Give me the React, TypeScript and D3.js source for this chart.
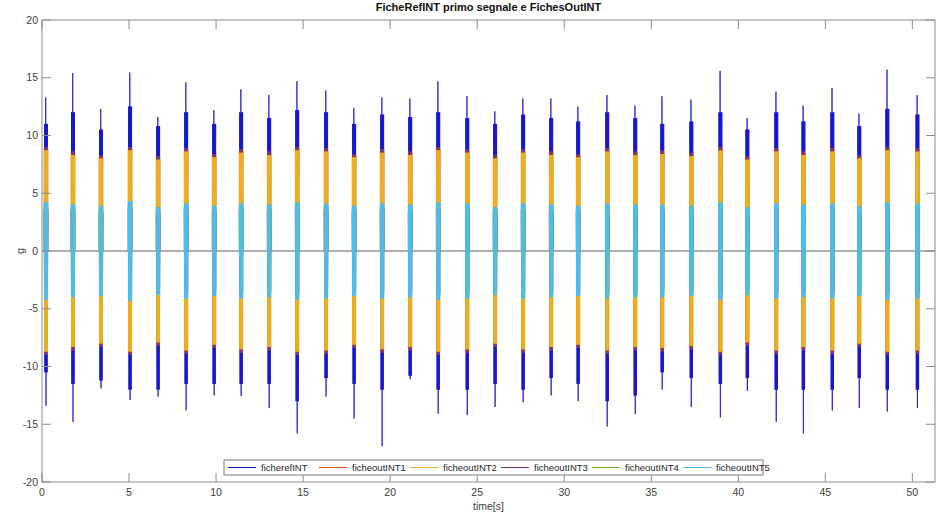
import React from "react";
import * as d3 from "d3";

// ---- data ----
const burstTimes = [0.23, 1.78, 3.39, 5.06, 6.67, 8.28, 9.89, 11.44, 13.05, 14.66, 16.32, 17.93, 19.54, 21.15, 22.76, 24.43, 26.03, 27.64, 29.25, 30.8, 32.47, 34.08, 35.63, 37.3, 38.97, 40.52, 42.18, 43.74, 45.4, 46.95, 48.56, 50.29];
const refMax = [13.3, 15.4, 12.3, 15.45, 11.6, 14.6, 12.2, 14.0, 13.5, 14.7, 13.9, 12.4, 13.3, 13.2, 14.7, 13.4, 12.1, 13.2, 13.2, 12.5, 13.5, 12.6, 13.4, 13.1, 15.6, 11.5, 13.8, 12.6, 14.1, 11.9, 15.7, 13.5];
const refMin = [-13.4, -14.8, -11.9, -12.9, -12.6, -13.8, -12.5, -12.55, -13.6, -15.8, -12.6, -14.5, -16.9, -11.1, -14.1, -14.2, -13.5, -13.1, -12.5, -13.0, -15.2, -14.1, -12.0, -13.5, -14.4, -12.1, -14.8, -15.8, -13.8, -13.6, -13.9, -13.6];
const refBodyHi = [11.0, 12.0, 10.5, 12.5, 10.8, 12.0, 11.0, 12.0, 11.5, 12.2, 12.0, 11.0, 11.8, 11.6, 12.0, 11.5, 11.0, 11.8, 11.5, 11.2, 12.0, 11.5, 11.0, 11.2, 12.0, 10.5, 12.0, 11.2, 12.0, 10.8, 12.3, 11.8];
const refBodyLo = [-10.5, -11.5, -11.2, -12.0, -12.0, -11.5, -11.5, -11.5, -11.5, -13.0, -11.0, -11.5, -12.0, -10.8, -12.0, -12.0, -11.5, -12.0, -11.0, -11.5, -13.0, -12.5, -10.5, -11.0, -11.5, -11.0, -12.0, -12.0, -12.0, -11.0, -12.0, -12.0];
const out1Amp = [9.0, 8.6, 8.3, 9.0, 8.2, 8.9, 8.4, 8.8, 8.6, 9.0, 8.9, 8.4, 8.8, 8.6, 9.0, 8.8, 8.3, 8.8, 8.6, 8.4, 8.9, 8.6, 8.7, 8.5, 9.0, 8.2, 8.9, 8.6, 8.9, 8.3, 9.0, 8.9];
const out2Amp = [8.7, 8.3, 8.0, 8.7, 7.9, 8.6, 8.1, 8.5, 8.3, 8.7, 8.6, 8.1, 8.5, 8.3, 8.7, 8.5, 8.0, 8.5, 8.3, 8.1, 8.6, 8.3, 8.4, 8.2, 8.7, 7.9, 8.6, 8.3, 8.6, 8.0, 8.7, 8.6];
const out3Amp = [3.5, 3.4, 3.3, 3.6, 3.2, 3.5, 3.3, 3.5, 3.4, 3.6, 3.5, 3.3, 3.5, 3.4, 3.6, 3.5, 3.2, 3.5, 3.4, 3.3, 3.5, 3.4, 3.4, 3.3, 3.6, 3.2, 3.5, 3.4, 3.5, 3.3, 3.6, 3.5];
const out4Amp = [3.7, 3.6, 3.5, 3.8, 3.4, 3.7, 3.5, 3.7, 3.6, 3.8, 3.7, 3.5, 3.7, 3.6, 3.8, 3.7, 3.4, 3.7, 3.6, 3.5, 3.7, 3.6, 3.6, 3.5, 3.8, 3.4, 3.7, 3.6, 3.7, 3.5, 3.8, 3.7];
const out5Amp = [4.2, 4.0, 3.9, 4.3, 3.8, 4.1, 3.9, 4.1, 4.0, 4.2, 4.1, 3.9, 4.1, 4.0, 4.2, 4.1, 3.8, 4.1, 4.0, 3.9, 4.1, 4.0, 4.0, 3.9, 4.2, 3.8, 4.1, 4.0, 4.1, 3.9, 4.2, 4.1];

const xTicks = [0, 5, 10, 15, 20, 25, 30, 35, 40, 45, 50];
const yTicks = [-20, -15, -10, -5, 0, 5, 10, 15, 20];
const seriesNames = ["ficherefINT", "ficheoutINT1", "ficheoutINT2", "ficheoutINT3", "ficheoutINT4", "ficheoutINT5"];
const seriesColors = ["#1414cc", "#D95319", "#EDB120", "#7E2F8E", "#77AC30", "#4DBEEE"];
const titleText = "FicheRefINT primo segnale e FichesOutINT";
const xLabel = "time[s]";
const yLabel = "g";

// ---- layout ----
const W = 938;
const H = 515;
const L = 42, R = 935, T = 20, B = 482;
const xDomain: [number, number] = [0, 51.3];

type Pt = [number, number];

function burstPts(t: number, hi: number, lo: number, halfW: number, steps: number, spikes?: [number, number]): Pt[] {
  const pts: Pt[] = [[t - halfW, 0]];
  for (let k = 0; k <= steps; k++) {
    const x = t - halfW + (2 * halfW * k) / steps;
    pts.push([x, k % 2 ? lo : hi]);
    if (spikes && k === Math.floor(steps / 2) - 1) {
      pts.push([x, spikes[0]]);
      pts.push([x + halfW * 0.2, spikes[1]]);
    }
  }
  pts.push([t + halfW, 0]);
  return pts;
}

export default function App() {
  const x = d3.scaleLinear().domain(xDomain).range([L, R]);
  const y = d3.scaleLinear().domain([-20, 20]).range([B, T]);
  const line = d3.line<Pt>().x((d) => x(d[0])).y((d) => y(d[1]));

  const amps = [null, out1Amp, out2Amp, out3Amp, out4Amp, out5Amp];
  const opac = [1, 0.55, 1, 1, 1, 1];

  const seriesBursts: Pt[][][] = seriesNames.map((_, s) =>
    burstTimes.map((t, i) => {
      if (s === 0) return burstPts(t, refBodyHi[i], refBodyLo[i], 0.085, 10, [refMax[i], refMin[i]]);
      const a = (amps[s] as number[])[i];
      return burstPts(t, a, -a, 0.1, 12);
    })
  );

  const baselinePath = (s: number) => {
    const pts: Pt[] = [[xDomain[0], 0]];
    seriesBursts[s].forEach((b) => {
      pts.push(b[0]);
      pts.push(b[b.length - 1]);
    });
    pts.push([xDomain[1], 0]);
    return line(pts) || "";
  };

  const axisColor = "#8c8c8c";
  const textColor = "#404040";
  const tickLen = 9;

  const legendX = 224, legendY = 460, legendW = 539, legendH = 15;
  const legendStep = 91;

  return (
    <svg width={W} height={H} style={{ position: "absolute", left: 0, top: 0, fontFamily: "'Liberation Sans', Arial, sans-serif" }}>
      <rect x={0} y={0} width={W} height={H} fill="#fff" />
      <defs>
        <clipPath id="plotclip">
          <rect x={L} y={T} width={R - L} height={B - T} />
        </clipPath>
      </defs>
      <g clipPath="url(#plotclip)">
        {seriesNames.map((n, s) => (
          <path key={"b" + n} d={baselinePath(s)} fill="none" stroke={seriesColors[s]} strokeOpacity={0.3} strokeWidth={1} />
        ))}
        {seriesNames.map((n, s) => (
          <g key={"s" + n} opacity={opac[s]}>
            {seriesBursts[s].map((pts, i) => (
              <path key={i} d={line(pts) || ""} fill="none" stroke={seriesColors[s]} strokeWidth={0.8} />
            ))}
          </g>
        ))}
      </g>
      {/* box */}
      <rect x={L} y={T} width={R - L} height={B - T} fill="none" stroke={axisColor} strokeWidth={1} />
      {xTicks.map((v) => (
        <g key={"xt" + v}>
          <line x1={x(v)} x2={x(v)} y1={B} y2={B - tickLen} stroke={axisColor} />
          <line x1={x(v)} x2={x(v)} y1={T} y2={T + tickLen} stroke={axisColor} />
          <text x={x(v)} y={496} fontSize={10.5} fill={textColor} textAnchor="middle">{v}</text>
        </g>
      ))}
      {yTicks.map((v) => (
        <g key={"yt" + v}>
          <line x1={L} x2={L + tickLen} y1={y(v)} y2={y(v)} stroke={axisColor} />
          <line x1={R} x2={R - tickLen} y1={y(v)} y2={y(v)} stroke={axisColor} />
          <text x={38} y={y(v) + 3.5} fontSize={10.5} fill={textColor} textAnchor="end">{v}</text>
        </g>
      ))}
      <text x={(L + R) / 2} y={11} fontSize={11} fontWeight="bold" fill="#111" textAnchor="middle">{titleText}</text>
      <text x={(L + R) / 2} y={510} fontSize={10.5} fill={textColor} textAnchor="middle">{xLabel}</text>
      <text transform={`translate(24, ${y(0)}) rotate(-90)`} fontSize={11} fill={textColor} textAnchor="middle">{yLabel}</text>
      {/* legend */}
      <rect x={legendX} y={legendY} width={legendW} height={legendH} fill="#fff" stroke="#7a7a7a" strokeWidth={1} />
      {seriesNames.map((n, s) => (
        <g key={"lg" + n}>
          <line x1={legendX + 4 + s * legendStep} x2={legendX + 32 + s * legendStep} y1={legendY + 7.5} y2={legendY + 7.5} stroke={seriesColors[s]} strokeWidth={1} />
          <text x={legendX + 37 + s * legendStep} y={legendY + 10.8} fontSize={9.5} fill="#262626">{n}</text>
        </g>
      ))}
    </svg>
  );
}
